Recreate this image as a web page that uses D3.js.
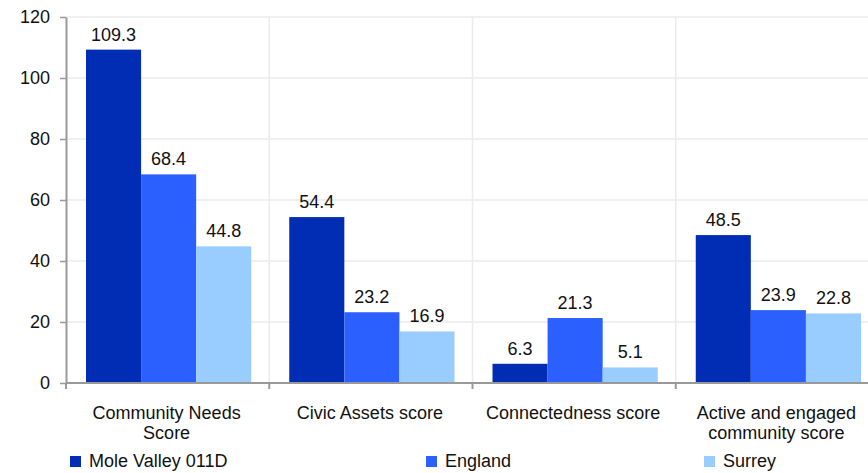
<!DOCTYPE html>
<html><head><meta charset="utf-8">
<script src="https://cdn.jsdelivr.net/npm/d3@7"></script>
<style>body{margin:0;background:#fff}svg{display:block;font-family:"Liberation Sans",Arial,sans-serif}</style>
</head><body><svg id="c" width="868" height="473"></svg>
<script>
const categories = [["Community Needs","Score"],["Civic Assets score"],["Connectedness score"],["Active and engaged","community score"]];
const seriesNames = ["Mole Valley 011D","England","Surrey"];
const moleValley = [109.3, 54.4, 6.3, 48.5];
const england = [68.4, 23.2, 21.3, 23.9];
const surrey = [44.8, 16.9, 5.1, 22.8];
const yTicks = [0,20,40,60,80,100,120];
const colors = ["#002db3","#2b60ff","#99ccff"];

const svg = d3.select("#c");
const x0 = d3.scaleBand().domain(d3.range(categories.length)).range([66, 879]).paddingInner(0).paddingOuter(0);
const x1 = d3.scaleBand().domain(d3.range(3)).range([20, x0.bandwidth()-18]).padding(0);
const y = d3.scaleLinear().domain([0,120]).range([383,17]);
const series = [moleValley, england, surrey];

// gridlines
svg.append("g").selectAll("line").data(yTicks.slice(1)).join("line")
  .attr("x1",66).attr("x2",868).attr("y1",d=>y(d)).attr("y2",d=>y(d))
  .attr("stroke","#ebebeb").attr("stroke-width",1.5);
svg.append("g").selectAll("line").data(d3.range(1,categories.length)).join("line")
  .attr("x1",d=>x0(d)).attr("x2",d=>x0(d)).attr("y1",y(120)).attr("y2",y(0))
  .attr("stroke","#ebebeb").attr("stroke-width",1.5);

// bars
const g = svg.append("g");
series.forEach((vals, si) => {
  g.selectAll(null).data(vals).join("rect")
    .attr("x",(d,i)=>x0(i)+x1(si)).attr("width",x1.bandwidth())
    .attr("y",d=>y(d)).attr("height",d=>y(0)-y(d)).attr("fill",colors[si]);
  g.selectAll(null).data(vals).join("text")
    .attr("x",(d,i)=>x0(i)+x1(si)+x1.bandwidth()/2).attr("y",d=>y(d)-9)
    .attr("text-anchor","middle").attr("font-size",18).attr("fill","#111")
    .text(d=>d.toFixed(1));
});

// y axis
const ya = svg.append("g").attr("transform","translate(66,0)")
  .call(d3.axisLeft(y).tickValues(yTicks).tickSize(6).tickSizeOuter(0).tickPadding(10));
ya.select(".domain").attr("stroke","#999").attr("stroke-width",2);
ya.selectAll(".tick line").attr("stroke","#999").attr("stroke-width",1.5);
ya.selectAll(".tick text").attr("font-size",18).attr("fill","#111").attr("font-family","Liberation Sans, Arial, sans-serif");

// x axis
svg.append("line").attr("x1",66).attr("x2",868).attr("y1",y(0)).attr("y2",y(0)).attr("stroke","#999").attr("stroke-width",2);
svg.append("g").selectAll("line").data(d3.range(categories.length)).join("line")
  .attr("x1",d=>x0(d)).attr("x2",d=>x0(d)).attr("y1",y(0)).attr("y2",y(0)+6)
  .attr("stroke","#999").attr("stroke-width",2);
const xl = svg.append("g").selectAll("text").data(categories).join("text")
  .attr("text-anchor","middle").attr("font-size",18).attr("fill","#111")
  .attr("transform",(d,i)=>`translate(${x0(i)+x1(0)+ (x1.bandwidth()*3)/2 - 2},419)`);
xl.selectAll("tspan").data(d=>d).join("tspan").attr("x",0).attr("dy",(d,i)=>i?20:0).text(d=>d);

// legend
const legX = [70, 426, 704];
const lg = svg.append("g").selectAll("g").data(seriesNames).join("g")
  .attr("transform",(d,i)=>`translate(${legX[i]},456)`);
lg.append("rect").attr("width",11).attr("height",11).attr("fill",(d,i)=>colors[i]);
lg.append("text").attr("x",19).attr("y",11).attr("font-size",18).attr("fill","#111").text(d=>d);
</script></body></html>
